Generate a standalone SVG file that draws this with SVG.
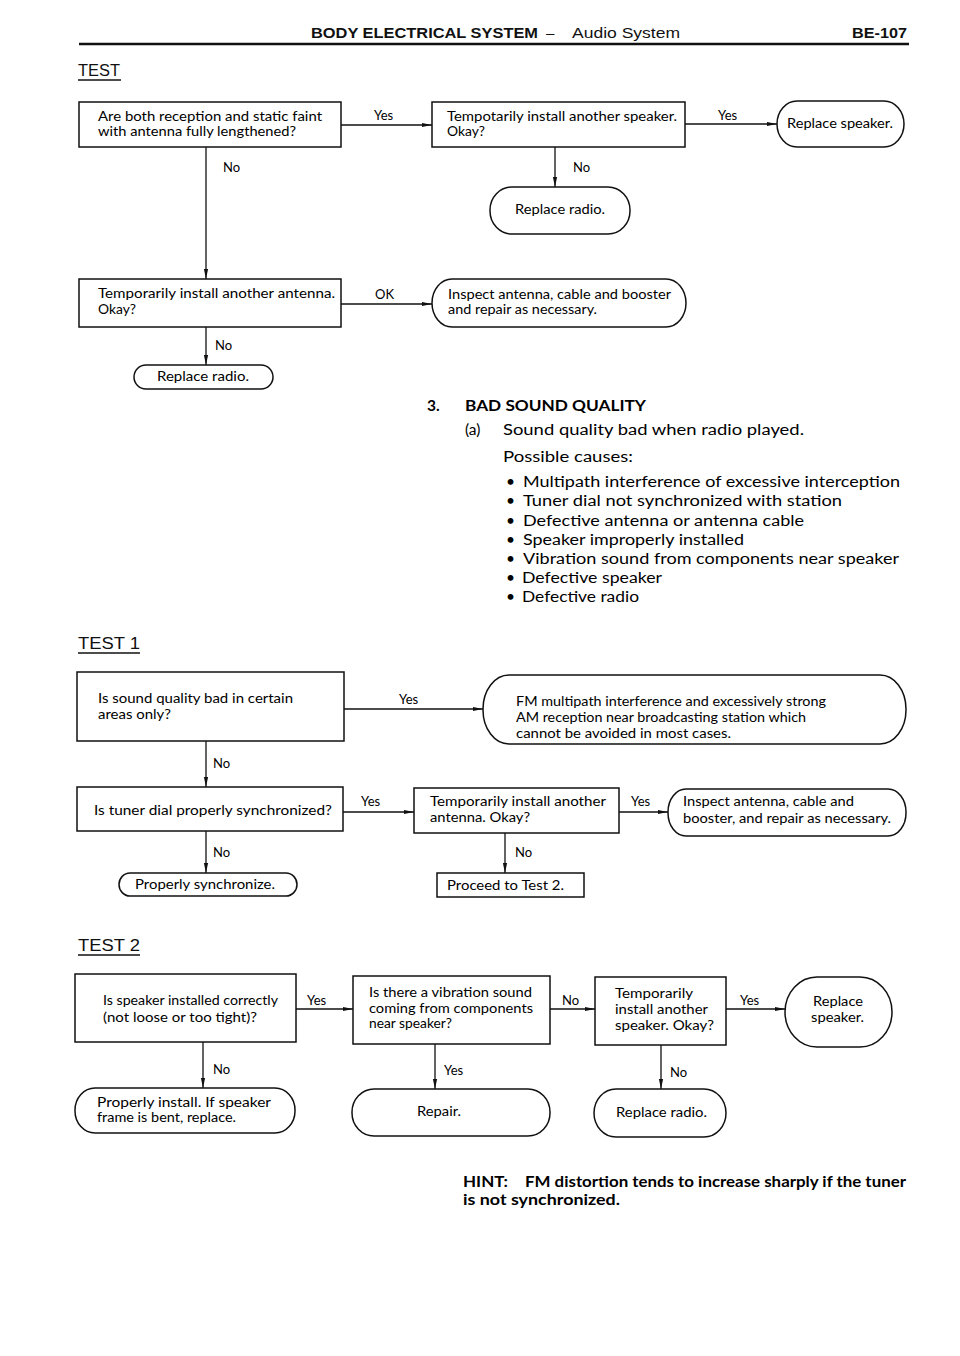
<svg xmlns="http://www.w3.org/2000/svg" width="960" height="1356" viewBox="0 0 960 1356">
<defs>
<marker id="ah" markerUnits="userSpaceOnUse" markerWidth="10" markerHeight="6" refX="10" refY="3" orient="auto"><path d="M0,0.9 L10,3 L0,5.1 z" fill="#111"/></marker>
<style>
.bx{fill:#fff;stroke:#111;stroke-width:1.5}
.cn{fill:none;stroke:#111;stroke-width:1.3;marker-end:url(#ah)}
.t{font-family:Lato,"Open Sans","Liberation Sans",sans-serif;font-size:12.5px;fill:#000}
.lb{font-family:Lato,"Open Sans","Liberation Sans",sans-serif;font-size:13px;fill:#000}
.c{text-anchor:middle}
.s3{font-family:Lato,"Open Sans","Liberation Sans",sans-serif;font-size:15.5px;fill:#000}
.b{font-weight:bold}
.hd{font-family:"Liberation Sans",Arial,sans-serif;font-size:15px;fill:#111}
.tt{font-family:"Liberation Sans",Arial,sans-serif;font-size:16px;fill:#111}
.ul{stroke:#111;stroke-width:1.3}
</style>
</defs>
<rect width="960" height="1356" fill="#fff"/>

<g id="header">
<text class="hd b" x="311" y="38" textLength="227" lengthAdjust="spacingAndGlyphs">BODY ELECTRICAL SYSTEM</text>
<text class="hd" x="546" y="38">–</text>
<text class="hd" x="572" y="38" textLength="108" lengthAdjust="spacingAndGlyphs">Audio System</text>
<text class="hd b" x="852" y="38" textLength="55" lengthAdjust="spacingAndGlyphs">BE-107</text>
<line x1="79" y1="44" x2="909" y2="44" stroke="#111" stroke-width="2.6"/>
</g>

<g id="title-test">
<text class="tt" x="78" y="76" textLength="42" lengthAdjust="spacingAndGlyphs">TEST</text>
<line class="ul" x1="78" y1="80" x2="121" y2="80"/>
</g>

<g id="connectors">
<line class="cn" x1="341" y1="125" x2="432" y2="125"/>
<line class="cn" x1="685" y1="124" x2="777" y2="124"/>
<line class="cn" x1="555" y1="147" x2="555" y2="187"/>
<line class="cn" x1="206" y1="147" x2="206" y2="279"/>
<line class="cn" x1="341" y1="304" x2="432" y2="304"/>
<line class="cn" x1="206" y1="327" x2="206" y2="365"/>
<line class="cn" x1="344" y1="709" x2="483" y2="709"/>
<line class="cn" x1="206" y1="741" x2="206" y2="787"/>
<line class="cn" x1="343" y1="812" x2="414" y2="812"/>
<line class="cn" x1="619" y1="812" x2="668" y2="812" stroke-width="2"/>
<line class="cn" x1="206" y1="831" x2="206" y2="873"/>
<line class="cn" x1="505" y1="833" x2="505" y2="873"/>
<line class="cn" x1="296" y1="1009" x2="353" y2="1009"/>
<line class="cn" x1="550" y1="1009" x2="595" y2="1009"/>
<line class="cn" x1="726" y1="1009" x2="785" y2="1009" stroke-width="2"/>
<line class="cn" x1="203" y1="1042" x2="203" y2="1088"/>
<line class="cn" x1="435" y1="1044" x2="435" y2="1089"/>
<line class="cn" x1="661" y1="1045" x2="661" y2="1089"/>
<text class="lb" x="374" y="120">Yes</text>
<text class="lb" x="718" y="120">Yes</text>
<text class="lb" x="573" y="172">No</text>
<text class="lb" x="223" y="172">No</text>
<text class="lb" x="375" y="299">OK</text>
<text class="lb" x="215" y="350">No</text>
<text class="lb" x="399" y="704">Yes</text>
<text class="lb" x="213" y="768">No</text>
<text class="lb" x="361" y="806">Yes</text>
<text class="lb" x="631" y="806">Yes</text>
<text class="lb" x="213" y="857">No</text>
<text class="lb" x="515" y="857">No</text>
<text class="lb" x="307" y="1005">Yes</text>
<text class="lb" x="562" y="1005">No</text>
<text class="lb" x="740" y="1005">Yes</text>
<text class="lb" x="213" y="1074">No</text>
<text class="lb" x="444" y="1075">Yes</text>
<text class="lb" x="670" y="1077">No</text>
</g>

<g id="n-faint">
<rect class="bx" x="79" y="102" width="262" height="45"/>
<text class="t" x="98" y="121" textLength="224" lengthAdjust="spacingAndGlyphs">Are both reception and static faint</text>
<text class="t" x="98" y="136" textLength="198" lengthAdjust="spacingAndGlyphs">with antenna fully lengthened?</text>
</g>
<g id="n-speaker1">
<rect class="bx" x="432" y="102" width="253" height="45"/>
<text class="t" x="447" y="121" textLength="230" lengthAdjust="spacingAndGlyphs">Tempotarily install another speaker.</text>
<text class="t" x="447" y="136" textLength="38" lengthAdjust="spacingAndGlyphs">Okay?</text>
</g>
<g id="n-replace-speaker1">
<rect class="bx" x="777" y="101" width="127" height="46" rx="20" ry="23"/>
<text class="t" x="787" y="128" textLength="106" lengthAdjust="spacingAndGlyphs">Replace speaker.</text>
</g>
<g id="n-replace-radio1">
<rect class="bx" x="490" y="187" width="140" height="47" rx="22" ry="23"/>
<text class="t" x="515" y="214" textLength="90" lengthAdjust="spacingAndGlyphs">Replace radio.</text>
</g>
<g id="n-antenna1">
<rect class="bx" x="79" y="279" width="262" height="48"/>
<text class="t" x="98" y="298" textLength="237" lengthAdjust="spacingAndGlyphs">Temporarily install another antenna.</text>
<text class="t" x="98" y="314" textLength="38" lengthAdjust="spacingAndGlyphs">Okay?</text>
</g>
<g id="n-inspect1">
<rect class="bx" x="432" y="279" width="254" height="48" rx="20" ry="24"/>
<text class="t" x="448" y="299" textLength="223" lengthAdjust="spacingAndGlyphs">Inspect antenna, cable and booster</text>
<text class="t" x="448" y="314" textLength="149" lengthAdjust="spacingAndGlyphs">and repair as necessary.</text>
</g>
<g id="n-replace-radio2">
<rect class="bx" x="134" y="365" width="139" height="24" rx="12" ry="12"/>
<text class="t" x="157" y="381" textLength="92" lengthAdjust="spacingAndGlyphs">Replace radio.</text>
</g>

<g id="section3">
<text class="s3 b" x="427" y="411">3.</text>
<text class="s3 b" x="465" y="411" textLength="181" lengthAdjust="spacingAndGlyphs">BAD SOUND QUALITY</text>
<text class="s3" x="465" y="435">(a)</text>
<text class="s3" x="503" y="435" textLength="301" lengthAdjust="spacingAndGlyphs">Sound quality bad when radio played.</text>
<text class="s3" x="503" y="462" textLength="130" lengthAdjust="spacingAndGlyphs">Possible causes:</text>
<text class="s3" x="506" y="487">•</text>
<text class="s3" x="523" y="487" textLength="377" lengthAdjust="spacingAndGlyphs">Multipath interference of excessive interception</text>
<text class="s3" x="506" y="506">•</text>
<text class="s3" x="523" y="506" textLength="319" lengthAdjust="spacingAndGlyphs">Tuner dial not synchronized with station</text>
<text class="s3" x="506" y="526">•</text>
<text class="s3" x="523" y="526" textLength="281" lengthAdjust="spacingAndGlyphs">Defective antenna or antenna cable</text>
<text class="s3" x="506" y="545">•</text>
<text class="s3" x="523" y="545" textLength="221" lengthAdjust="spacingAndGlyphs">Speaker improperly installed</text>
<text class="s3" x="506" y="564">•</text>
<text class="s3" x="523" y="564" textLength="376" lengthAdjust="spacingAndGlyphs">Vibration sound from components near speaker</text>
<text class="s3" x="506" y="583">•</text>
<text class="s3" x="522" y="583" textLength="140" lengthAdjust="spacingAndGlyphs">Defective speaker</text>
<text class="s3" x="506" y="602">•</text>
<text class="s3" x="522" y="602" textLength="117" lengthAdjust="spacingAndGlyphs">Defective radio</text>
</g>

<g id="title-test1">
<text class="tt" x="78" y="649" textLength="62" lengthAdjust="spacingAndGlyphs">TEST  1</text>
<line class="ul" x1="78" y1="653" x2="140" y2="653"/>
</g>
<g id="n-areas">
<rect class="bx" x="77" y="672" width="267" height="69"/>
<text class="t" x="98" y="703" textLength="195" lengthAdjust="spacingAndGlyphs">Is sound quality bad in certain</text>
<text class="t" x="98" y="719" textLength="73" lengthAdjust="spacingAndGlyphs">areas only?</text>
</g>
<g id="n-fm">
<rect class="bx" x="483" y="675" width="423" height="69" rx="26" ry="34"/>
<text class="t" x="516" y="706" textLength="310" lengthAdjust="spacingAndGlyphs">FM multipath interference and excessively strong</text>
<text class="t" x="516" y="722" textLength="290" lengthAdjust="spacingAndGlyphs">AM reception near broadcasting station which</text>
<text class="t" x="516" y="738" textLength="215" lengthAdjust="spacingAndGlyphs">cannot be avoided in most cases.</text>
</g>
<g id="n-tuner">
<rect class="bx" x="77" y="787" width="266" height="44"/>
<text class="t" x="94" y="815" textLength="238" lengthAdjust="spacingAndGlyphs">Is tuner dial properly synchronized?</text>
</g>
<g id="n-antenna2">
<rect class="bx" x="414" y="788" width="205" height="45"/>
<text class="t" x="430" y="806" textLength="176" lengthAdjust="spacingAndGlyphs">Temporarily install another</text>
<text class="t" x="430" y="822" textLength="100" lengthAdjust="spacingAndGlyphs">antenna.  Okay?</text>
</g>
<g id="n-inspect2">
<rect class="bx" x="668" y="789" width="238" height="47" rx="18" ry="23"/>
<text class="t" x="683" y="806" textLength="171" lengthAdjust="spacingAndGlyphs">Inspect antenna, cable and</text>
<text class="t" x="683" y="823" textLength="208" lengthAdjust="spacingAndGlyphs">booster, and repair as necessary.</text>
</g>
<g id="n-synchronize">
<rect class="bx" x="119" y="873" width="178" height="23" rx="11" ry="11.5"/>
<text class="t" x="135" y="889" textLength="140" lengthAdjust="spacingAndGlyphs">Properly synchronize.</text>
</g>
<g id="n-proceed">
<rect class="bx" x="437" y="873" width="147" height="24"/>
<text class="t" x="447" y="890" textLength="117" lengthAdjust="spacingAndGlyphs">Proceed to Test 2.</text>
</g>

<g id="title-test2">
<text class="tt" x="78" y="951" textLength="62" lengthAdjust="spacingAndGlyphs">TEST  2</text>
<line class="ul" x1="78" y1="955" x2="140" y2="955"/>
</g>
<g id="n-installed">
<rect class="bx" x="75" y="974" width="221" height="68"/>
<text class="t" x="103" y="1005" textLength="175" lengthAdjust="spacingAndGlyphs">Is speaker installed correctly</text>
<text class="t" x="103" y="1022" textLength="154" lengthAdjust="spacingAndGlyphs">(not loose or too tight)?</text>
</g>
<g id="n-vibration">
<rect class="bx" x="353" y="976" width="197" height="68"/>
<text class="t" x="369" y="997" textLength="163" lengthAdjust="spacingAndGlyphs">Is there a vibration sound</text>
<text class="t" x="369" y="1013" textLength="164" lengthAdjust="spacingAndGlyphs">coming from components</text>
<text class="t" x="369" y="1028" textLength="83" lengthAdjust="spacingAndGlyphs">near speaker?</text>
</g>
<g id="n-speaker2">
<rect class="bx" x="595" y="977" width="131" height="68"/>
<text class="t" x="615" y="998" textLength="78" lengthAdjust="spacingAndGlyphs">Temporarily</text>
<text class="t" x="615" y="1014" textLength="93" lengthAdjust="spacingAndGlyphs">install another</text>
<text class="t" x="615" y="1030" textLength="99" lengthAdjust="spacingAndGlyphs">speaker. Okay?</text>
</g>
<g id="n-replace-speaker2">
<rect class="bx" x="785" y="977" width="107" height="70" rx="32" ry="35"/>
<text class="t" x="813" y="1006" textLength="50" lengthAdjust="spacingAndGlyphs">Replace</text>
<text class="t" x="811" y="1022" textLength="53" lengthAdjust="spacingAndGlyphs">speaker.</text>
</g>
<g id="n-properly-install">
<rect class="bx" x="75" y="1088" width="220" height="45" rx="20" ry="22"/>
<text class="t" x="97" y="1107" textLength="174" lengthAdjust="spacingAndGlyphs">Properly install.  If speaker</text>
<text class="t" x="97" y="1122" textLength="139" lengthAdjust="spacingAndGlyphs">frame is bent, replace.</text>
</g>
<g id="n-repair">
<rect class="bx" x="352" y="1089" width="198" height="47" rx="22" ry="23"/>
<text class="t" x="417" y="1116" textLength="44" lengthAdjust="spacingAndGlyphs">Repair.</text>
</g>
<g id="n-replace-radio3">
<rect class="bx" x="594" y="1089" width="132" height="48" rx="22" ry="24"/>
<text class="t" x="616" y="1117" textLength="91" lengthAdjust="spacingAndGlyphs">Replace radio.</text>
</g>

<g id="hint">
<text class="s3 b" x="463" y="1187" textLength="45" lengthAdjust="spacingAndGlyphs">HINT:</text>
<text class="s3 b" x="525" y="1187" textLength="381" lengthAdjust="spacingAndGlyphs">FM distortion tends to increase sharply if the tuner</text>
<text class="s3 b" x="463" y="1205" textLength="157" lengthAdjust="spacingAndGlyphs">is not synchronized.</text>
</g>
</svg>
